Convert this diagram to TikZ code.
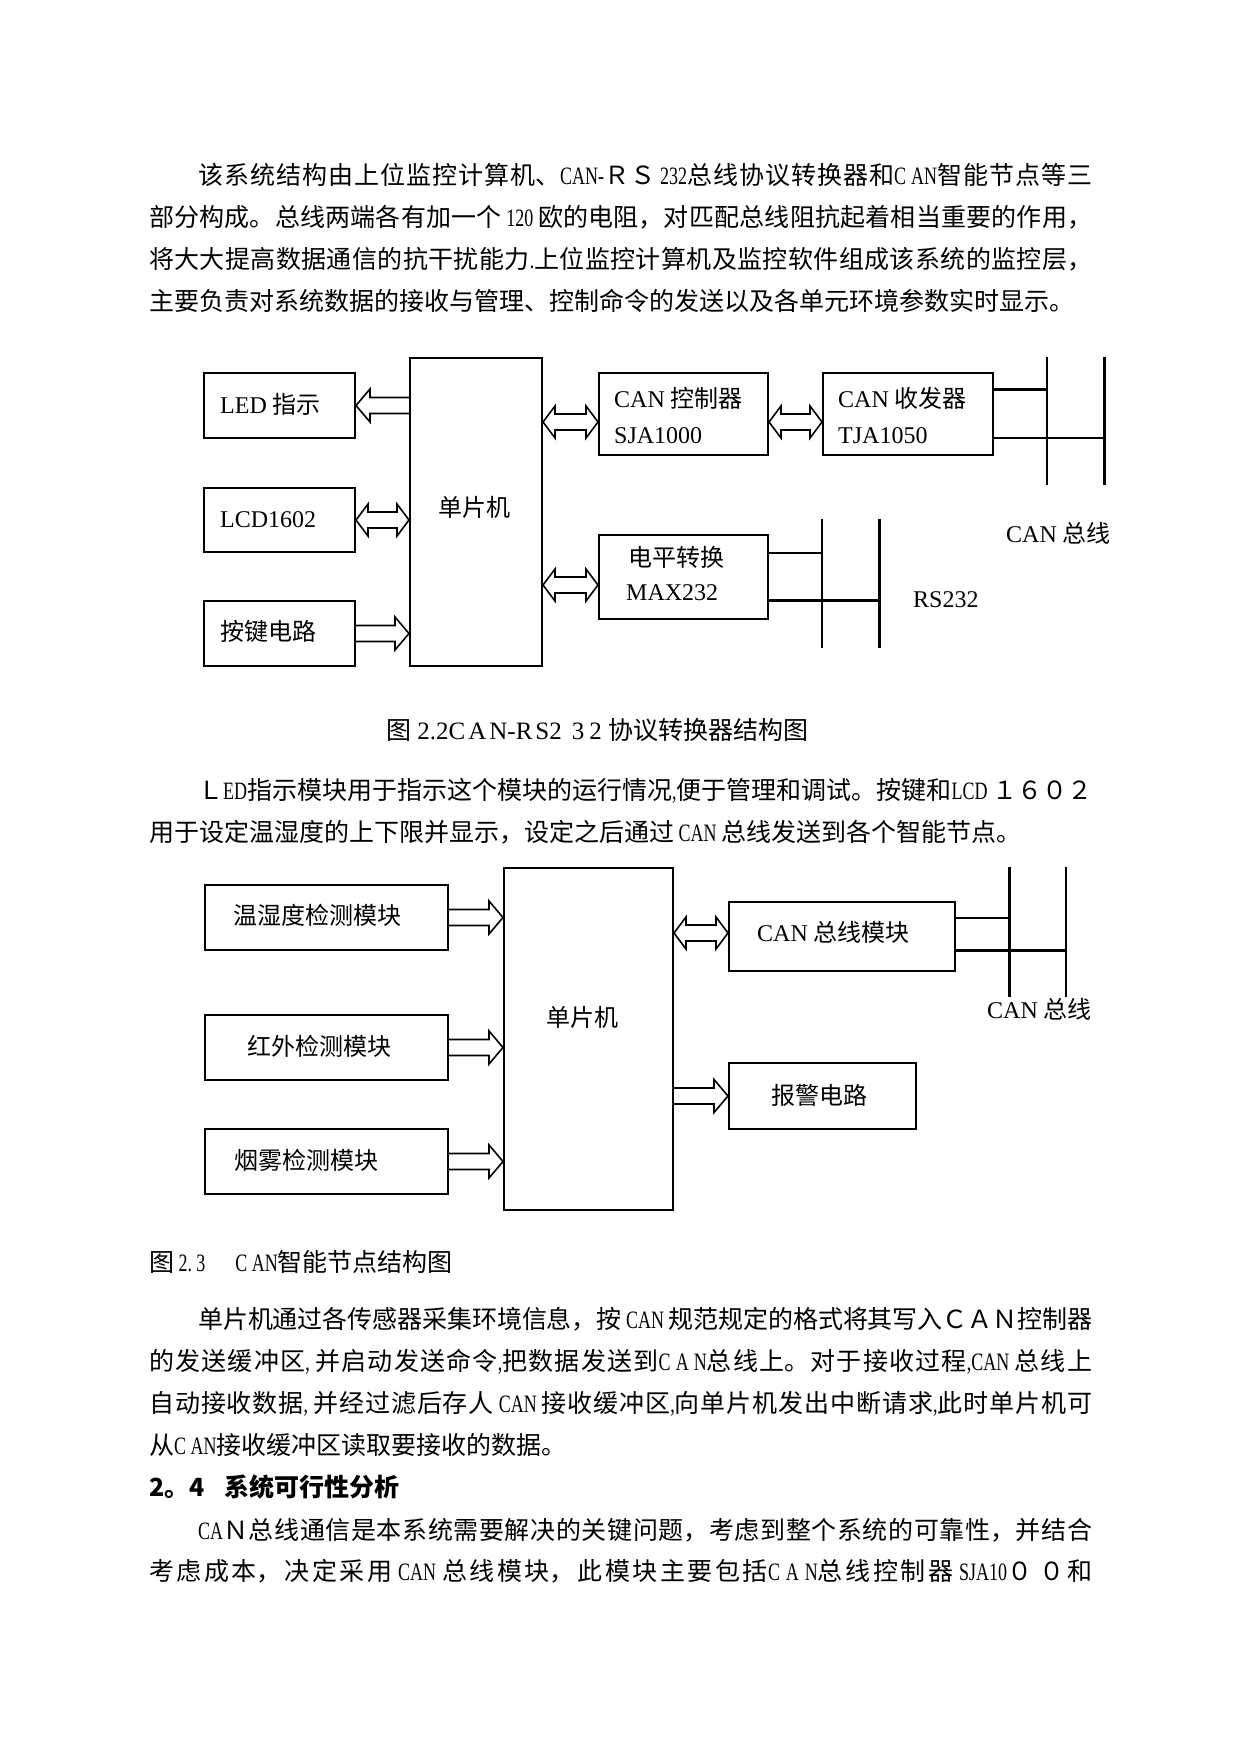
\documentclass[tikz,border=0pt]{standalone}
\usepackage{fontspec}
\setmainfont{Liberation Serif}
\newfontfamily\cjk{Noto Sans CJK SC}
\newfontfamily\latc[FakeStretch=0.72]{Liberation Serif}
\usetikzlibrary{calc}
\XeTeXlinebreaklocale "zh"
\XeTeXlinebreakskip=0pt plus 4pt minus 1pt
\newcommand\jl[1]{\parbox[b]{943pt}{\parfillskip=0pt\parindent=0pt\tolerance=9999\relax #1}}
\newcommand\lc[1]{{\latc #1}}
\newcommand\sarr[2]{%
  \draw[arrl] let \p1=(#1), \p2=(#2), \n1={ifthenelse(\x2>\x1,1,-1)} in
  (\x1,\y1+8pt) -- ({\x2-14pt*\n1},\y1+8pt) -- ({\x2-14pt*\n1},\y1+16.5pt) -- (\x2,\y1)
  -- ({\x2-14pt*\n1},\y1-16.5pt) -- ({\x2-14pt*\n1},\y1-8pt) -- (\x1,\y1-8pt);}
\newcommand\darr[2]{%
  \draw[arrl] let \p1=(#1), \p2=(#2), \n1={ifthenelse(\x2>\x1,1,-1)} in
  ({\x1+12pt*\n1},\y1+8pt) -- ({\x2-12pt*\n1},\y1+8pt) -- ({\x2-12pt*\n1},\y1+16pt) -- (\x2,\y1)
  -- ({\x2-12pt*\n1},\y1-16pt) -- ({\x2-12pt*\n1},\y1-8pt) -- ({\x1+12pt*\n1},\y1-8pt)
  -- ({\x1+12pt*\n1},\y1-16pt) -- (\x1,\y1) -- ({\x1+12pt*\n1},\y1+16pt) -- cycle;}
\tikzset{
  boxn/.style={draw, line width=2pt, inner sep=0pt, anchor=north west},
  arrl/.style={line width=1.6pt, line join=miter},
  busthin/.style={line width=1.3pt},
  busthick/.style={line width=3pt},
  lbl/.style={inner sep=0pt, anchor=base west, font=\fontsize{24pt}{28pt}\selectfont},
  bodyt/.style={inner sep=0pt, anchor=base west, font=\cjk\fontsize{25pt}{30pt}\selectfont},
}
\begin{document}
\begin{tikzpicture}[x=1pt,y=-1pt]
\fill[white] (0,0) rectangle (1241,1754);
\useasboundingbox (0,0) rectangle (1241,1754);

% ---------- body text ----------
\node[bodyt] (p1a) at (149,184) {\jl{\hspace*{49pt}该系统结构由上位监控计算机、\lc{CAN-}ＲＳ\lc{ 232}总线协议转换器和\lc{C AN}智能节点等三}};
\node[bodyt] (p1b) at (149,226) {\jl{部分构成。总线两端各有加一个\lc{ 120 }欧的电阻，对匹配总线阻抗起着相当重要的作用，}};
\node[bodyt] (p1c) at (149,268) {\jl{将大大提高数据通信的抗干扰能力\lc{.}上位监控计算机及监控软件组成该系统的监控层，}};
\node[bodyt] (p1d) at (149,310) {主要负责对系统数据的接收与管理、控制命令的发送以及各单元环境参数实时显示。};

\node[bodyt] (cap1) at (386,739) {图{\rmfamily\ 2.2C\hspace{3pt}A\hspace{3pt}N-R\hspace{3pt}S2\hspace{10pt}3\hspace{5pt}2\ }协议转换器结构图};

\node[bodyt] (p2a) at (149,799) {\jl{\hspace*{49pt}Ｌ\lc{ED}指示模块用于指示这个模块的运行情况\lc{,}便于管理和调试。按键和\lc{LCD }１６０２}};
\node[bodyt] (p2b) at (149,841) {用于设定温湿度的上下限并显示，设定之后通过\lc{ CAN }总线发送到各个智能节点。};

\node[bodyt] (cap2) at (149,1271) {图\lc{ 2.\,3}\hspace{30pt}\lc{C AN}智能节点结构图};

\node[bodyt] (p3a) at (149,1328) {\jl{\hspace*{49pt}单片机通过各传感器采集环境信息，按\lc{ CAN }规范规定的格式将其写入ＣＡＮ控制器}};
\node[bodyt] (p3b) at (149,1370) {\jl{的发送缓冲区\lc{, }并启动发送命令\lc{,}把数据发送到\lc{C A N}总线上。对于接收过程\lc{,CAN }总线上}};
\node[bodyt] (p3c) at (149,1412) {\jl{自动接收数据\lc{, }并经过滤后存人\lc{ CAN }接收缓冲区\lc{,}向单片机发出中断请求\lc{,}此时单片机可}};
\node[bodyt] (p3d) at (149,1454) {从\lc{C AN}接收缓冲区读取要接收的数据。};

\node[bodyt] (h24) at (149,1496) {\bfseries 2。4\hspace{20pt}系统可行性分析};

\node[bodyt] (p4a) at (149,1539) {\jl{\hspace*{49pt}\lc{CA}Ｎ总线通信是本系统需要解决的关键问题，考虑到整个系统的可靠性，并结合}};
\node[bodyt] (p4b) at (149,1580) {\jl{考虑成本，决定采用\lc{ CAN }总线模块，此模块主要包括\lc{C A N}总线控制器\lc{ SJA10}０ ０和}};

% ---------- diagram 1 ----------
\node[boxn, minimum width=151pt, minimum height=65pt] (led) at (203,372) {};
\node[boxn, minimum width=151pt, minimum height=64pt] (lcd) at (203,487) {};
\node[boxn, minimum width=151pt, minimum height=65pt] (key) at (203,600) {};
\node[boxn, minimum width=132pt, minimum height=308pt] (mcu1) at (409,357) {};
\node[boxn, minimum width=169pt, minimum height=82pt] (sja) at (598,372) {};
\node[boxn, minimum width=170pt, minimum height=82pt] (tja) at (822,372) {};
\node[boxn, minimum width=169pt, minimum height=84pt] (max) at (598,534) {};

\node[lbl] (ledt) at (220,413) {LED {\cjk 指示}};
\node[lbl] (lcdt) at (220,527) {LCD1602};
\node[lbl] (keyt) at (220,640) {\cjk 按键电路};
\node[lbl, anchor=base] (mcu1t) at (474,516) {\cjk 单片机};
\node[lbl] (sjat1) at (614,407) {CAN {\cjk 控制器}};
\node[lbl] (sjat2) at (614,443) {SJA1000};
\node[lbl] (tjat1) at (838,407) {CAN {\cjk 收发器}};
\node[lbl] (tjat2) at (838,443) {TJA1050};
\node[lbl] (maxt1) at (628,566) {\cjk 电平转换};
\node[lbl] (maxt2) at (626,600) {MAX232};
\node[lbl] (rst) at (913,607) {RS232};
\node[lbl] (can1t) at (1006,542) {CAN {\cjk 总线}};

\sarr{mcu1.west |- led.east}{led.east}
\darr{lcd.east}{mcu1.west |- lcd.east}
\sarr{key.east}{mcu1.west |- key.east}
\coordinate (sjaIn) at ([yshift=-8pt]sja.west);
\darr{mcu1.east |- sjaIn}{sjaIn}
\coordinate (tjaIn) at ([yshift=-8pt]tja.west);
\darr{sja.east |- tjaIn}{tjaIn}
\coordinate (maxIn) at ([yshift=-8pt]max.west);
\darr{mcu1.east |- maxIn}{maxIn}

% CAN bus 1
\coordinate (cb1t) at (1047,357); \coordinate (cb1b) at (1047,485);
\coordinate (cb2t) at (1104,357); \coordinate (cb2b) at (1104,485);
\draw[busthin] (cb1t) -- (cb1b);
\draw[busthick] (cb2t) -- (cb2b);
\coordinate (tjaH) at ([yshift=25pt]tja.east);
\coordinate (tjaL) at ([yshift=-24pt]tja.east);
\draw[busthick] (tjaH) -- (tjaH -| cb1t);
\draw[busthin] (tjaL) -- (tjaL -| cb2t);

% RS232 bus
\coordinate (rb1t) at (822,519); \coordinate (rb1b) at (822,648);
\coordinate (rb2t) at (879,519); \coordinate (rb2b) at (879,648);
\draw[busthin] (rb1t) -- (rb1b);
\draw[busthick] (rb2t) -- (rb2b);
\coordinate (maxH) at ([yshift=24pt]max.east);
\coordinate (maxL) at ([yshift=-23pt]max.east);
\draw[busthin] (maxH) -- (maxH -| rb1t);
\draw[busthick] (maxL) -- (maxL -| rb2t);

% ---------- diagram 2 ----------
\node[boxn, minimum width=243pt, minimum height=65pt] (s1) at (204,884) {};
\node[boxn, minimum width=243pt, minimum height=65pt] (s2) at (204,1014) {};
\node[boxn, minimum width=243pt, minimum height=65pt] (s3) at (204,1128) {};
\node[boxn, minimum width=169pt, minimum height=342pt] (mcu2) at (503,867) {};
\node[boxn, minimum width=226pt, minimum height=69pt] (canmod) at (728,901) {};
\node[boxn, minimum width=187pt, minimum height=66pt] (alarm) at (728,1062) {};

\node[lbl] (s1t) at (233,924) {\cjk 温湿度检测模块};
\node[lbl] (s2t) at (247,1055) {\cjk 红外检测模块};
\node[lbl] (s3t) at (234,1169) {\cjk 烟雾检测模块};
\node[lbl, anchor=base] (mcu2t) at (582,1026) {\cjk 单片机};
\node[lbl] (canmodt) at (757,941) {CAN {\cjk 总线模块}};
\node[lbl] (alarmt) at (771,1104) {\cjk 报警电路};
\node[lbl] (can2t) at (987,1018) {CAN {\cjk 总线}};

\sarr{s1.east}{mcu2.west |- s1.east}
\sarr{s2.east}{mcu2.west |- s2.east}
\sarr{s3.east}{mcu2.west |- s3.east}
\coordinate (cmIn) at ([yshift=3.5pt]canmod.west);
\darr{mcu2.east |- cmIn}{cmIn}
\sarr{mcu2.east |- alarm.west}{alarm.west}

\coordinate (db1t) at (1009,867); \coordinate (db1b) at (1009,997);
\coordinate (db2t) at (1066,867); \coordinate (db2b) at (1066,997);
\draw[busthick] (db1t) -- (db1b);
\draw[busthin] (db2t) -- (db2b);
\coordinate (cmH) at ([yshift=18.5pt]canmod.east);
\coordinate (cmL) at ([yshift=-13.5pt]canmod.east);
\draw[busthin] (cmH) -- (cmH -| db1t);
\draw[busthick] (cmL) -- (cmL -| db2t);
\end{tikzpicture}
\end{document}
